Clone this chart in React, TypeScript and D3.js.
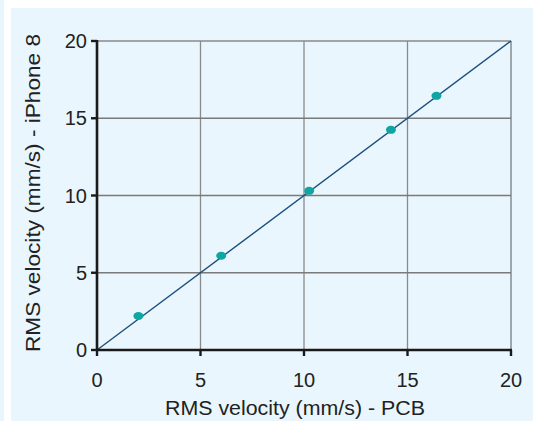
import React from "react";
import * as d3 from "d3";

const xTicks = [0, 5, 10, 15, 20];
const yTicks = [0, 5, 10, 15, 20];
const pcbValues = [2.0, 6.0, 10.25, 14.2, 16.4];
const iphoneValues = [2.2, 6.1, 10.3, 14.25, 16.45];
const xTitle = "RMS velocity (mm/s) - PCB";
const yTitle = "RMS velocity (mm/s) - iPhone 8";

const W = 533;
const H = 421;

export default function App() {
  const x = d3.scaleLinear().domain([0, 20]).range([97, 511]);
  const y = d3.scaleLinear().domain([0, 20]).range([350, 41]);
  const line = d3.line<number>().x((d) => x(d)).y((d) => y(d));
  const font = "'Liberation Sans', Arial, sans-serif";
  const bg = "#e9f6fd";
  const txt = "#222222";
  return (
    <svg
      width={W}
      height={H}
      style={{ position: "absolute", left: 0, top: 0, display: "block" }}
    >
      <rect x={0} y={0} width={W} height={H} fill="#ffffff" />
      <rect x={0} y={0} width={4} height={H} fill={bg} />
      <rect x={11} y={8} width={W - 11} height={H - 8} fill={bg} />
      {/* grid */}
      {xTicks.slice(1).map((t) => (
        <line
          key={"gx" + t}
          x1={x(t)}
          x2={x(t)}
          y1={y(20)}
          y2={y(0)}
          stroke={t === 20 ? "#9ea7ad" : "#8a8a8a"}
          strokeWidth={t === 20 ? 2 : 1.3}
        />
      ))}
      {yTicks.slice(1).map((t) => (
        <line
          key={"gy" + t}
          x1={x(0)}
          x2={x(20)}
          y1={y(t)}
          y2={y(t)}
          stroke={t === 20 ? "#8a8a8a" : "#7a7a7a"}
          strokeWidth={1.3}
        />
      ))}
      {/* identity line */}
      <path d={line([0, 20]) || ""} stroke="#1c4f7c" strokeWidth={1.4} fill="none" />
      {/* points */}
      {pcbValues.map((v, i) => (
        <ellipse
          key={"p" + i}
          cx={x(v)}
          cy={y(iphoneValues[i])}
          rx={5}
          ry={4}
          fill="#0ea5a3"
        />
      ))}
      {/* axes */}
      <line x1={x(0)} x2={x(0)} y1={y(20) - 1} y2={y(0) + 1} stroke="#1a1a1a" strokeWidth={2.6} />
      <line x1={x(0) - 1} x2={x(20) + 1} y1={y(0)} y2={y(0)} stroke="#1a1a1a" strokeWidth={2.6} />
      {yTicks.map((t) => (
        <g key={"yt" + t}>
          <line x1={x(0) - 6} x2={x(0)} y1={y(t)} y2={y(t)} stroke="#1a1a1a" strokeWidth={2.4} />
          <text
            x={87}
            y={y(t)}
            textAnchor="end"
            dominantBaseline="central"
            fontFamily={font}
            fontSize={20}
            fill={txt}
          >
            {t}
          </text>
        </g>
      ))}
      {xTicks.map((t) => (
        <g key={"xt" + t}>
          <line x1={x(t)} x2={x(t)} y1={y(0)} y2={y(0) + 6} stroke="#1a1a1a" strokeWidth={2.4} />
          <text
            x={x(t)}
            y={387}
            textAnchor="middle"
            fontFamily={font}
            fontSize={20}
            fill={txt}
          >
            {t}
          </text>
        </g>
      ))}
      <text
        x={295}
        y={415}
        textAnchor="middle"
        fontFamily={font}
        fontSize={20}
        textLength={260}
        lengthAdjust="spacingAndGlyphs"
        fill={txt}
      >
        {xTitle}
      </text>
      <text
        transform={`translate(40, 193) rotate(-90)`}
        textAnchor="middle"
        fontFamily={font}
        fontSize={21}
        textLength={318}
        lengthAdjust="spacingAndGlyphs"
        fill={txt}
      >
        {yTitle}
      </text>
    </svg>
  );
}
